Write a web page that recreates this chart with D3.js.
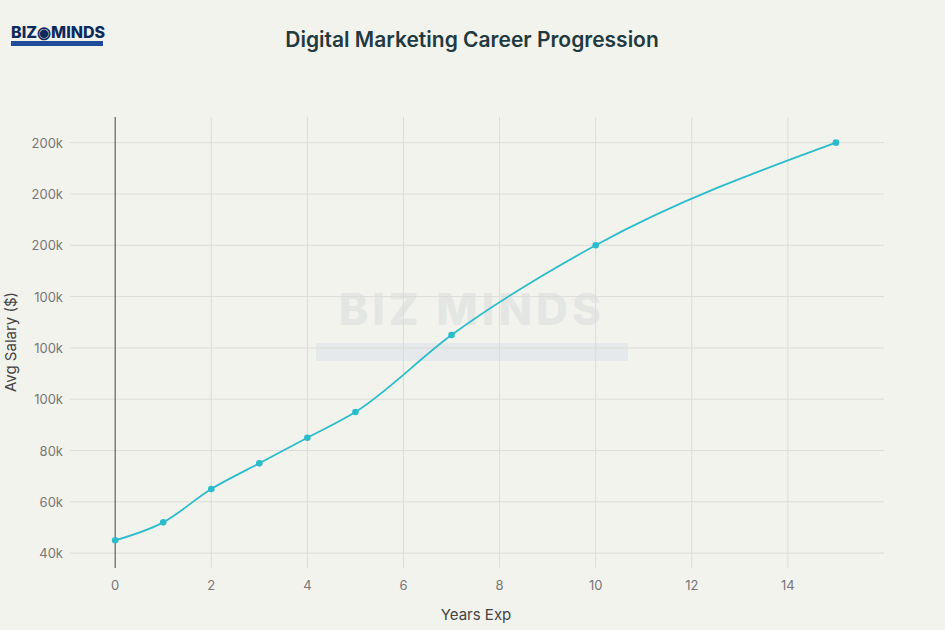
<!DOCTYPE html>
<html><head><meta charset="utf-8">
<script src="https://cdn.jsdelivr.net/npm/d3@7"></script>
<style>body{margin:0;background:#f3f3ee;font-family:Inter,"Open Sans",sans-serif}</style>
</head><body><svg id="c" width="945" height="630"></svg>
<script>
const years = [0, 1, 2, 3, 4, 5, 7, 10, 15]
const salary = [45000, 52000, 65000, 75000, 85000, 95000, 125000, 160000, 200000]
const yTicks = [40000, 60000, 80000, 100000, 120000, 140000, 160000, 180000, 200000]
const xTicks = [0, 2, 4, 6, 8, 10, 12, 14]

const svg = d3.select("#c")
const x = d3.scaleLinear().domain([-0.94, 16]).range([70, 884])
const y = d3.scaleLinear().domain([34200, 210000]).range([568, 117])
const fmt = d3.format(".1s")

// watermark
svg.append("text").attr("x", 472).attr("y", 325).attr("text-anchor", "middle")
	.attr("font-size", 44).attr("font-weight", 800).attr("fill", "#e4e6e4").attr("letter-spacing", 4).text("BIZ MINDS")
svg.append("rect").attr("x", 316).attr("y", 343).attr("width", 312).attr("height", 18).attr("fill", "#e6e9ec")

const g = svg.append("g")
g.selectAll(".gx").data(xTicks).join("line")
	.attr("x1", d => x(d)).attr("x2", d => x(d)).attr("y1", 117).attr("y2", 568)
	.attr("stroke", d => d === 0 ? "#444" : "#dcdcd8").attr("stroke-width", 1)
g.selectAll(".gy").data(yTicks).join("line")
	.attr("x1", 70).attr("x2", 884).attr("y1", d => y(d)).attr("y2", d => y(d))
	.attr("stroke", "#dcdcd8")
g.select("line").raise()

svg.selectAll(".xl").data(xTicks).join("text")
	.attr("x", d => x(d)).attr("y", 590).attr("text-anchor", "middle")
	.attr("font-size", 13).attr("fill", "#777").text(d => d)
svg.selectAll(".yl").data(yTicks).join("text")
	.attr("x", 63).attr("y", d => y(d) + 5).attr("text-anchor", "end")
	.attr("font-size", 13).attr("fill", "#777").text(d => fmt(d))

const pts = years.map((d, i) => [d, salary[i]])
svg.append("path").datum(pts)
	.attr("d", d3.line().x(d => x(d[0])).y(d => y(d[1])).curve(d3.curveMonotoneX))
	.attr("fill", "none").attr("stroke", "#2bbccb").attr("stroke-width", 1.8)
svg.selectAll(".pt").data(pts).join("circle")
	.attr("cx", d => x(d[0])).attr("cy", d => y(d[1])).attr("r", 3.3).attr("fill", "#2bbccb")

svg.append("text").attr("x", 472).attr("y", 47).attr("text-anchor", "middle")
	.attr("font-size", 21).attr("font-weight", 600).attr("fill", "#1f3a40").text("Digital Marketing Career Progression")
svg.append("text").attr("x", 476).attr("y", 620).attr("text-anchor", "middle")
	.attr("font-size", 15).attr("fill", "#444").text("Years Exp")
svg.append("text").attr("transform", "translate(16,342) rotate(-90)").attr("text-anchor", "middle")
	.attr("font-size", 15).attr("fill", "#444").text("Avg Salary ($)")

// logo
svg.append("text").attr("x", 11).attr("y", 38).attr("font-size", 16).attr("font-weight", 800)
	.attr("fill", "#0e2a5c").text("BIZ◉MINDS")
svg.append("rect").attr("x", 11).attr("y", 41).attr("width", 92).attr("height", 5).attr("fill", "#1e4c9a")
</script></body></html>
